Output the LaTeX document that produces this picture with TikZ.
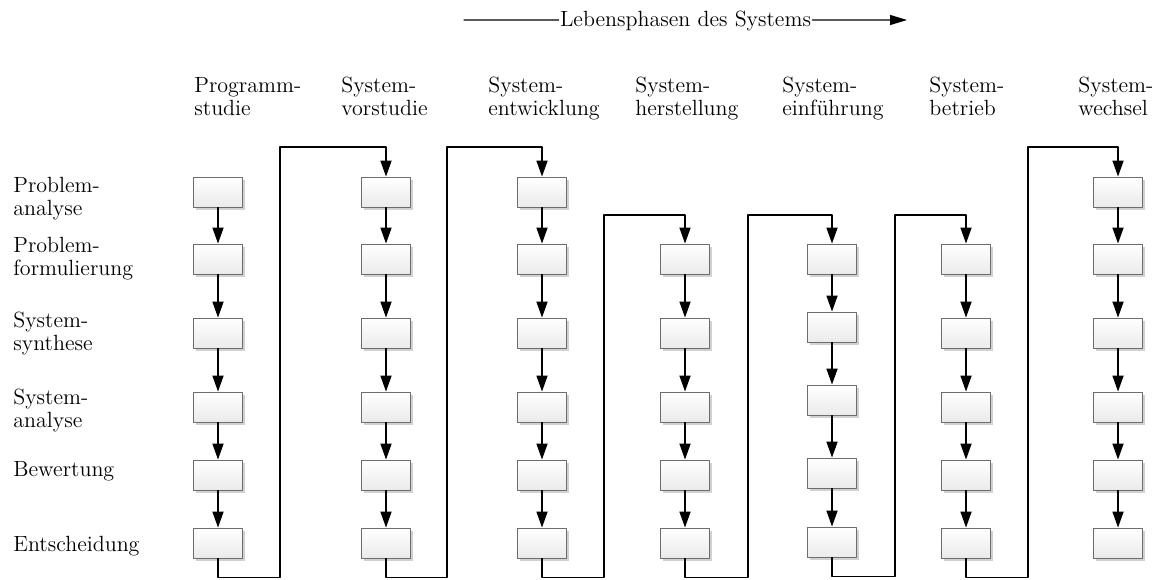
\documentclass[tikz,border=0pt]{standalone}
\usetikzlibrary{arrows.meta,positioning,shadows}
\tikzset{
  phase/.style={draw=gray!85!black, line width=0.5pt, top color=white, bottom color=gray!16,
    minimum width=24.5pt, minimum height=15pt, inner sep=0pt,
    drop shadow={shadow xshift=1.3pt, shadow yshift=-1.3pt, fill=gray!40, opacity=0.9}},
  flow/.style={-{Triangle[length=8pt,width=5.6pt]}, line width=0.55pt},
  lbl/.style={align=left, anchor=base west, inner sep=0pt, font=\fontsize{11}{11.5}\selectfont}
}
\begin{document}
\begin{tikzpicture}[x=0.5pt, y=-0.5pt, line cap=round, line join=round]
		\useasboundingbox (0,0) rectangle (1159,579);
		% Lebensphasen
		\coordinate (ls) at (464,20);
		\coordinate (le) at (907,20);
		\node[inner sep=0.5pt, anchor=base, font=\fontsize{11}{11.5}\selectfont] (lp) at (685.5,26) {Lebensphasen des Systems};
		\draw[line width=0.6pt, gray!70!black] (ls) -- (lp.west |- ls);
		\draw[line width=0.6pt, gray!70!black, -{Triangle[length=8.5pt,width=5pt,color=black]}] (lp.east |- le) -- (le);
		% Phasen (base = letzte Zeile)
		\node[lbl] (h1) at (194,115) {Programm-\\studie};
		\node[lbl] (h2) at (341,115) {System-\\vorstudie};
		\node[lbl] (h3) at (488,115) {System-\\entwicklung};
		\node[lbl] (h4) at (635,115) {System-\\herstellung};
		\node[lbl] (h5) at (782,115) {System-\\einführung};
		\node[lbl] (h6) at (929,115) {System-\\betrieb};
		\node[lbl] (h7) at (1078,115) {System-\\wechsel};
		% Schritte
		\node[lbl] (r1) at (13,215) {Problem-\\analyse};
		\node[lbl] (r2) at (13,275) {Problem-\\formulierung};
		\node[lbl] (r3) at (13,350) {System-\\synthese};
		\node[lbl] (r4) at (13,427) {System-\\analyse};
		\node[lbl] (r5) at (13,476) {Bewertung};
		\node[lbl] (r6) at (13,551) {Entscheidung};
		% Kaesten
		\foreach \y [count=\r] in {192,259,333,407,475,543}
			\foreach \c/\x in {a/218,b/386,c/542,g/1118}
				\node[phase] (\c\r) at (\x,\y) {};
		\foreach \y [count=\r from 2] in {259,333,407,475,543}
			\foreach \c/\x in {d/685,f/966}
				\node[phase] (\c\r) at (\x,\y) {};
		\foreach \y [count=\r from 2] in {259,327,400,473,542}
			\node[phase] (e\r) at (832,\y) {};
		% Pfeile
		\foreach \c in {a,b,c,g}
			\foreach \r [count=\s from 2] in {1,...,5}
				\draw[flow] (\c\r) -- (\c\s);
		\foreach \c in {d,e,f}
			\foreach \r [count=\s from 3] in {2,...,5}
				\draw[flow] (\c\r) -- (\c\s);
		\draw[flow] (a6.south) -- ++(0,19) -| (280,147) -| (b1.north);
		\draw[flow] (b6.south) -- ++(0,19) -| (447,147) -| (c1.north);
		\draw[flow] (c6.south) -- ++(0,19) -| (604,215) -| (d2.north);
		\draw[flow] (d6.south) -- ++(0,19) -| (748,215) -| (e2.north);
		\draw[flow] (e6.south) -- ++(0,19) -| (895,215) -| (f2.north);
		\draw[flow] (f6.south) -- ++(0,19) -| (1028,147) -| (g1.north);
	\end{tikzpicture}
\end{document}
